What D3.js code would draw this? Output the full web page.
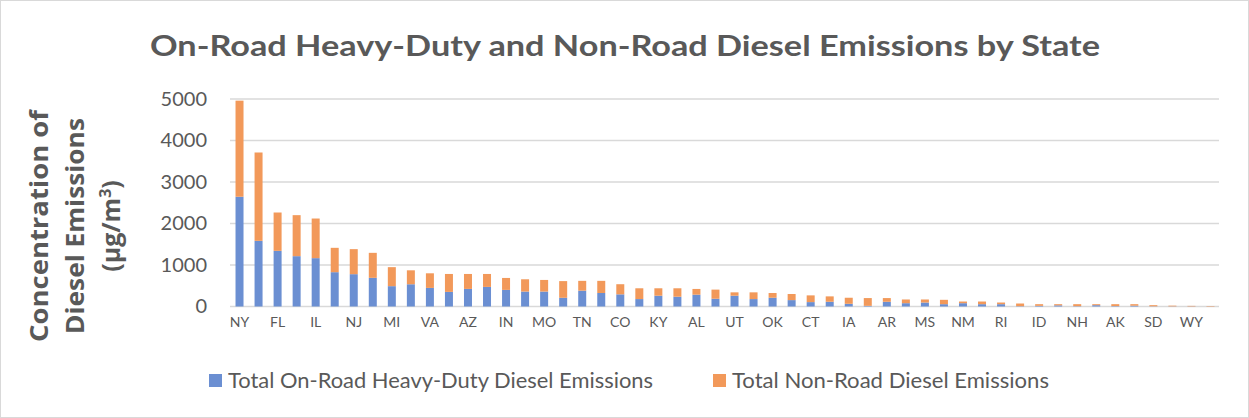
<!DOCTYPE html>
<html><head><meta charset="utf-8">
<script src="https://cdn.jsdelivr.net/npm/d3@7"></script>
<style>body{margin:0;background:#fff}svg{display:block}</style>
</head><body>
<svg id="c" width="1249" height="418"></svg>
<script>
const states = ["NY","CA","FL","TX","IL","PA","NJ","OH","MI","GA","VA","NC","AZ","MA","IN","WA","MO","MD","TN","WI","CO","MN","KY","LA","AL","SC","UT","OR","OK","NV","CT","KS","IA","NE","AR","DC","MS","WV","NM","HI","RI","DE","ID","ME","NH","MT","AK","ND","SD","VT","WY","PR"];
const onRoad = [2645,1582,1341,1213,1165,827,779,691,490,536,448,352,424,472,400,360,360,210,382,325,293,179,260,236,285,187,260,179,211,154,106,114,65,16,114,80,96,56,80,56,56,8,16,28,8,32,10,20,5,4,3,2];
const total  = [4960,3711,2265,2201,2120,1414,1382,1293,948,872,800,784,784,784,688,656,640,612,618,618,537,439,439,439,423,407,341,341,325,301,268,244,211,203,203,169,169,161,120,120,96,72,56,56,56,56,56,56,32,20,15,12];
const nonRoad = total.map((t,i)=>t-onRoad[i]);
const yTicks = [0,1000,2000,3000,4000,5000];
const seriesNames = ["Total On-Road Heavy-Duty Diesel Emissions","Total Non-Road Diesel Emissions"];
const colors = ["#6b8fd2","#f2995a"];
const txt = "#595959";

const svg = d3.select("#c");
svg.append("rect").attr("x",0.5).attr("y",0.5).attr("width",1248).attr("height",417)
  .attr("fill","#fff").attr("stroke","#d9d9d9");

const x = d3.scaleBand().domain(states).range([230,1220]).paddingInner(0.58).paddingOuter(0.29);
const y = d3.scaleLinear().domain([0,5000]).range([306.5,99]);

// gridlines
svg.append("g").selectAll("line").data(yTicks).join("line")
  .attr("x1",230).attr("x2",1219).attr("y1",d=>y(d)).attr("y2",d=>y(d))
  .attr("stroke","#d9d9d9").attr("stroke-width",1.5);

// y axis labels
const ya = svg.append("g").attr("transform","translate(214,0)")
  .call(d3.axisLeft(y).tickValues(yTicks).tickSize(0).tickPadding(7).tickFormat(d3.format("d")));
ya.select(".domain").remove();
ya.selectAll("text").attr("fill",txt).style("font-family","Lato, 'Open Sans', sans-serif").style("font-size","20px");

// stacked bars
const data = states.map((s,i)=>({state:s,on:onRoad[i],non:nonRoad[i]}));
const stack = d3.stack().keys(["on","non"])(data);
svg.append("g").selectAll("g").data(stack).join("g").attr("fill",(d,i)=>colors[i])
  .selectAll("rect").data(d=>d).join("rect")
  .attr("x",d=>x(d.data.state)).attr("width",x.bandwidth())
  .attr("y",d=>y(d[1])).attr("height",d=>Math.max(0,y(d[0])-y(d[1])));

// x axis labels (every other)
const xa = svg.append("g").attr("transform","translate(0,313)")
  .call(d3.axisBottom(x).tickSize(0).tickPadding(4).tickFormat((d,i)=>i%2===0?d:""));
xa.select(".domain").remove();
xa.selectAll("text").attr("fill",txt).style("font-family","Lato, 'Open Sans', sans-serif").style("font-size","14px");

// title
svg.append("text").attr("x",625).attr("y",56).attr("text-anchor","middle")
  .attr("fill",txt).style("font-family","Lato, 'Open Sans', sans-serif").style("font-weight","bold")
  .style("font-size","29px").attr("textLength",950).attr("lengthAdjust","spacingAndGlyphs")
  .text("On-Road Heavy-Duty and Non-Road Diesel Emissions by State");

// y title
const yt = svg.append("text").attr("transform","translate(0,226) rotate(-90)")
  .attr("text-anchor","middle").attr("fill",txt)
  .style("font-family","'Open Sans', Lato, sans-serif").style("font-weight","bold").style("font-size","25px");
yt.append("tspan").attr("x",0).attr("y",48).attr("textLength",232).attr("lengthAdjust","spacingAndGlyphs").text("Concentration of");
yt.append("tspan").attr("x",0).attr("y",84).attr("textLength",216).attr("lengthAdjust","spacingAndGlyphs").text("Diesel Emissions");
const t3 = yt.append("tspan").attr("x",0).attr("y",120);
t3.append("tspan").text("(μg/m");
t3.append("tspan").attr("dy",-9).style("font-size","16px").text("3");
t3.append("tspan").attr("dy",9).text(")");

// legend
const legX = [209,713];
const legW = [425,317];
const lg = svg.append("g").selectAll("g").data(seriesNames).join("g")
  .attr("transform",(d,i)=>`translate(${legX[i]},374)`);
lg.append("rect").attr("width",13).attr("height",13).attr("fill",(d,i)=>colors[i]);
lg.append("text").attr("x",19).attr("y",14).attr("fill",txt)
  .style("font-family","Lato, 'Open Sans', sans-serif").style("font-size","21px")
  .attr("textLength",(d,i)=>legW[i]).attr("lengthAdjust","spacingAndGlyphs").text(d=>d);
</script>
</body></html>
